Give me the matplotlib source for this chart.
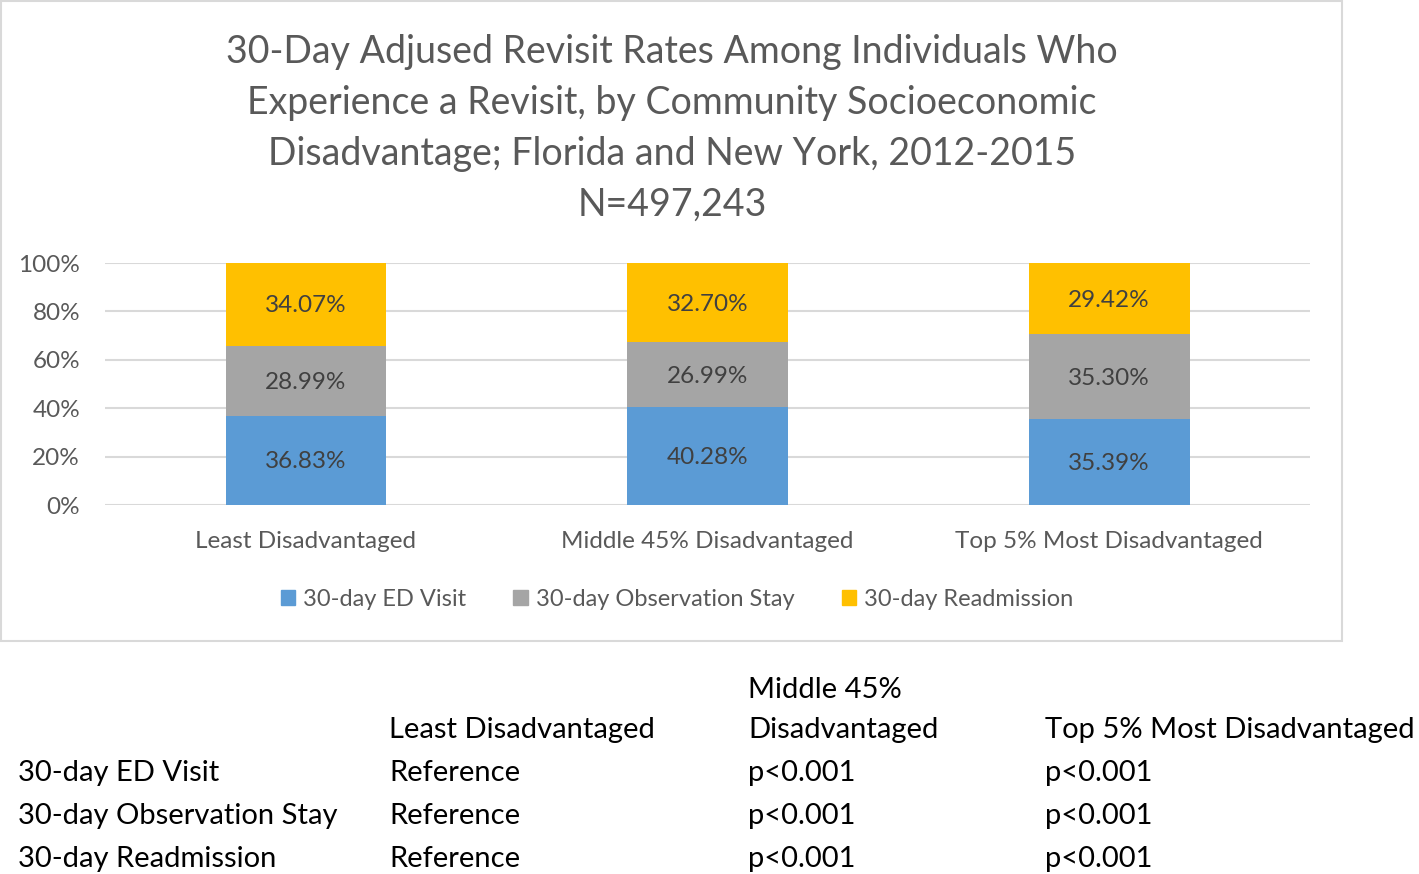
import matplotlib
matplotlib.use('Agg')
import matplotlib.pyplot as plt
from matplotlib.patches import Rectangle, Patch
import numpy as np

plt.rcParams['font.family'] = ['Lato', 'DejaVu Sans']

# chart data
categories = ['Least Disadvantaged', 'Middle 45% Disadvantaged', 'Top 5% Most Disadvantaged']
ed_visit = [36.83, 40.28, 35.39]
obs_stay = [28.99, 26.99, 35.30]
readmission = [34.07, 32.70, 29.42]
series_names = ['30-day ED Visit', '30-day Observation Stay', '30-day Readmission']
colors = ['#5B9BD5', '#A5A5A5', '#FFC000']

title_lines = ['30-Day Adjused Revisit Rates Among Individuals Who',
               'Experience a Revisit, by Community Socioeconomic',
               'Disadvantage; Florida and New York, 2012-2015',
               'N=497,243']

# table below the chart
table_header = ['', 'Least Disadvantaged', 'Middle 45%\nDisadvantaged', 'Top 5% Most Disadvantaged']
table_rows = [['30-day ED Visit', 'Reference', 'p<0.001', 'p<0.001'],
              ['30-day Observation Stay', 'Reference', 'p<0.001', 'p<0.001'],
              ['30-day Readmission', 'Reference', 'p<0.001', 'p<0.001']]

W, H = 1419, 874
fig = plt.figure(figsize=(W / 100, H / 100), dpi=100)

def fx(px):
    return px / W

def fy(py):
    return 1 - py / H

text_gray = '#595959'

# chart frame
fig.patches.append(Rectangle((fx(1), fy(641)), fx(1341), 640 / H, transform=fig.transFigure,
                             fill=False, edgecolor='#D9D9D9', linewidth=1.5))

# title
for i, line in enumerate(title_lines):
    fig.text(fx(672), fy(52 + 51 * i), line, ha='center', va='center', fontsize=27, color=text_gray)

ax = fig.add_axes([fx(105), fy(505), fx(1310) - fx(105), (505 - 263) / H])

data = np.array([ed_visit, obs_stay, readmission])
totals = data.sum(axis=0)
shares = data / totals * 100  # 100% stacked
x = np.arange(len(categories))
bottom = np.zeros(len(categories))
for vals, raw, name, c in zip(shares, data, series_names, colors):
    ax.bar(x, vals, width=0.4, bottom=bottom, color=c, label=name, zorder=3)
    for xi, b, v, r in zip(x, bottom, vals, raw):
        ax.text(xi, b + v / 2 - 0.6, f'{r:.2f}%', ha='center', va='center', fontsize=17.5,
                color='#404040', zorder=4)
    bottom += vals

ax.set_xlim(-0.5, 2.5)
ax.set_ylim(0, 100)
ax.set_yticks(range(0, 101, 20))
ax.set_yticklabels([f'{t}%' for t in range(0, 101, 20)])
ax.set_xticks(x)
ax.set_xticklabels(categories)
ax.grid(axis='y', color='#D9D9D9', linewidth=1.5, zorder=0)
for s in ax.spines.values():
    s.set_visible(False)
ax.tick_params(axis='both', length=0, labelsize=17.5, colors=text_gray)
ax.tick_params(axis='y', pad=18)
ax.tick_params(axis='x', pad=19)

handles = [Patch(color=c) for c in colors]
fig.legend(handles, series_names, loc='center', bbox_to_anchor=(fx(677), fy(599)), ncol=3,
           frameon=False, fontsize=17, handlelength=0.6, handleheight=0.6, handletextpad=0.35,
           columnspacing=2.0, labelcolor=text_gray)

# table text
col_x = [18, 389, 748, 1045]
tfs = 21
for cx, head in zip(col_x, table_header):
    if head:
        lines = head.split('\n')
        for j, ln in enumerate(reversed(lines)):
            fig.text(fx(cx), fy(730 - 40 * j), ln, ha='left', va='center', fontsize=tfs, color='black')
for r, row in enumerate(table_rows):
    for cx, cell in zip(col_x, row):
        fig.text(fx(cx), fy(773 + 43 * r), cell, ha='left', va='center', fontsize=tfs, color='black')

fig.savefig('out.png', dpi=100)
